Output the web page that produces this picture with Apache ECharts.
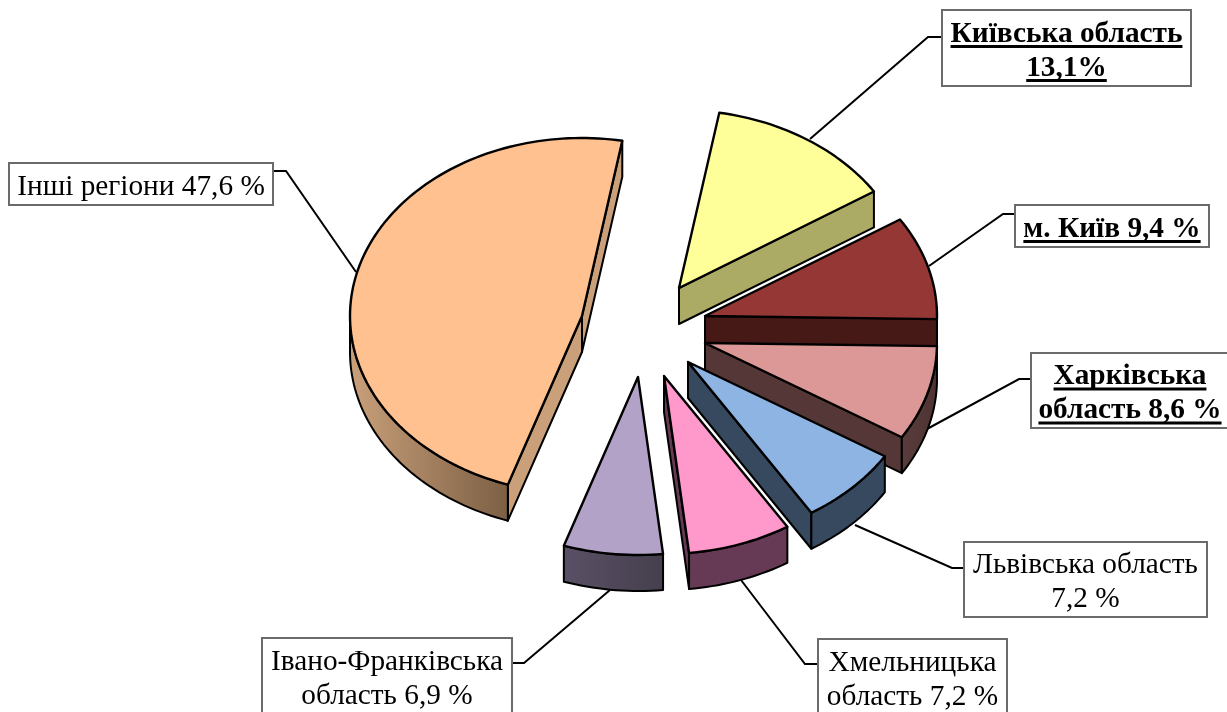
<!DOCTYPE html>
<html>
<head>
<meta charset="utf-8">
<style>html,body{margin:0;padding:0;background:#fff}#c{width:1227px;height:712px}</style>
<script src="https://cdn.jsdelivr.net/npm/echarts@6/dist/echarts.min.js"></script>
</head>
<body>
<div id="c"></div>
<script>
// Data
const regions = ['Київська область','м. Київ','Харківська область','Львівська область','Хмельницька область','Івано-Франківська область','Інші регіони'];
const shares = [13.1, 9.4, 8.6, 7.2, 7.2, 6.9, 47.6];
const labelLines = [['Київська область','13,1%'],['м. Київ 9,4 %'],['Харківська','область 8,6 %'],['Львівська область','7,2 %'],['Хмельницька','область 7,2 %'],['Івано-Франківська','область 6,9 %'],['Інші регіони 47,6 %']];
const emphasised = [true, true, true, false, false, false, false];

// Styles
const topColors = ['#FFFF99','#953735','#DC9897','#8EB4E3','#FF99CC','#B3A2C7','#FFC190'];
const wallColors = ['#ABAB66','#461816','#553737','#37495F','#663A54','#4D4559','#C9A079'];
const rimColors = [['#ABAB66','#ABAB66'],['#461816','#461816'],['#5A3C3C','#4E3232'],['#37495F','#37495F'],['#663A54','#663A54'],['#5A5066','#453F4D'],['#C9A07A','#7C5F44']];

// Layout
const RX = 232, RY = 178, DEPTH = 36, START = 10;
const centres = [[679,288],[705,316],[705,343],[688,362],[664,376],[638,377],[582,316]];
const boxes = [[942,10,249,76],[1015,205,194,42],[1031,353,198,75],[964,542,243,75],[818,639,189,76],[262,638,250,76],[9,163,264,42]];
const leaders = [[[810,139],[928,37],[942,37]],[[929,266],[1003,214],[1015,214]],[[927,429],[1019,379],[1031,379]],[[855,525],[952,568],[964,568]],[[741,580],[805,664],[818,664]],[[610,590],[524,663],[512,663]],[[356,272],[286,171],[273,171]]];
const FONT_PX = 29.3, LINE_H = 34;
const drawOrder = [6,0,1,2,3,4,5];

const total = shares.reduce((a,b)=>a+b,0);
const startAngles = [];
shares.reduce((acc,v,i)=>{ startAngles[i]=acc; return acc+v/total*360; }, START);

function pt(c,deg,dy){ const r=deg*Math.PI/180; return [c[0]+RX*Math.sin(r), c[1]-RY*Math.cos(r)+(dy||0)]; }
function arc(c,a,b,dy){ const out=[]; const n=Math.max(2,Math.ceil(Math.abs(b-a)/1.5)); for(let k=0;k<=n;k++) out.push(pt(c,a+(b-a)*k/n,dy)); return out; }
const edge = {stroke:'#000', lineJoin:'round'};

function renderSlice(params, api){
  const i = drawOrder[params.dataIndex];
  const c = centres[i];
  const t0 = startAngles[i], t1 = t0 + api.value(0)/total*360;
  const kids = [];
  const wall = (t)=>{ const p=pt(c,t); kids.push({type:'polygon',shape:{points:[c,p,[p[0],p[1]+DEPTH],[c[0],c[1]+DEPTH]]},style:Object.assign({fill:wallColors[i],lineWidth:2},edge)}); };
  if(Math.sin(t0*Math.PI/180)<0) wall(t0);
  if(Math.sin(t1*Math.PI/180)>0) wall(t1);
  const a=Math.max(t0,90), b=Math.min(t1,270);
  if(b>a){
    const top=arc(c,a,b,0), bot=arc(c,a,b,DEPTH).reverse();
    kids.push({type:'polygon',shape:{points:top.concat(bot)},style:Object.assign({lineWidth:2,
      fill:new echarts.graphic.LinearGradient(0,0,1,0,[{offset:0,color:rimColors[i][0]},{offset:1,color:rimColors[i][1]}])},edge)});
  }
  kids.push({type:'polygon',shape:{points:[c].concat(arc(c,t0,t1,0))},style:Object.assign({fill:topColors[i],lineWidth:2.4},edge)});
  return {type:'group',children:kids};
}

const measure = document.createElement('canvas').getContext('2d');
function renderLabel(params){
  const i = params.dataIndex, [x,y,w,h] = boxes[i], lines = labelLines[i];
  const font = (emphasised[i]?'bold ':'')+FONT_PX+'px "Liberation Serif"';
  measure.font = font;
  const cx=x+w/2, cy=y+h/2;
  const kids=[
    {type:'polyline',shape:{points:leaders[i]},style:{stroke:'#000',lineWidth:2,fill:null}},
    {type:'rect',shape:{x,y,width:w,height:h},style:{fill:'#fff',stroke:'#6b6b6b',lineWidth:2}}
  ];
  lines.forEach((s,k)=>{
    const base = cy+11+(k-(lines.length-1)/2)*LINE_H;
    kids.push({type:'text',style:{x:cx,y:base-8,text:s,font,fill:'#000',textAlign:'center',verticalAlign:'middle'}});
    if(emphasised[i]){
      const tw=measure.measureText(s).width;
      kids.push({type:'rect',shape:{x:cx-tw/2,y:base+3,width:tw,height:3},style:{fill:'#000'}});
    }
  });
  return {type:'group',children:kids};
}

const chart = echarts.init(document.getElementById('c'),null,{renderer:'canvas'});
chart.setOption({
  animation:false,
  backgroundColor:'#fff',
  series:[
    {type:'custom',name:'labels',coordinateSystem:'none',silent:true,z:1,renderItem:renderLabel,
     data:shares.map((v,i)=>({name:regions[i],value:[v]}))},
    {type:'custom',name:'shares',coordinateSystem:'none',silent:true,z:2,renderItem:renderSlice,
     data:drawOrder.map(i=>({name:regions[i],value:[shares[i]]}))}
  ]
});
</script>
</body>
</html>
